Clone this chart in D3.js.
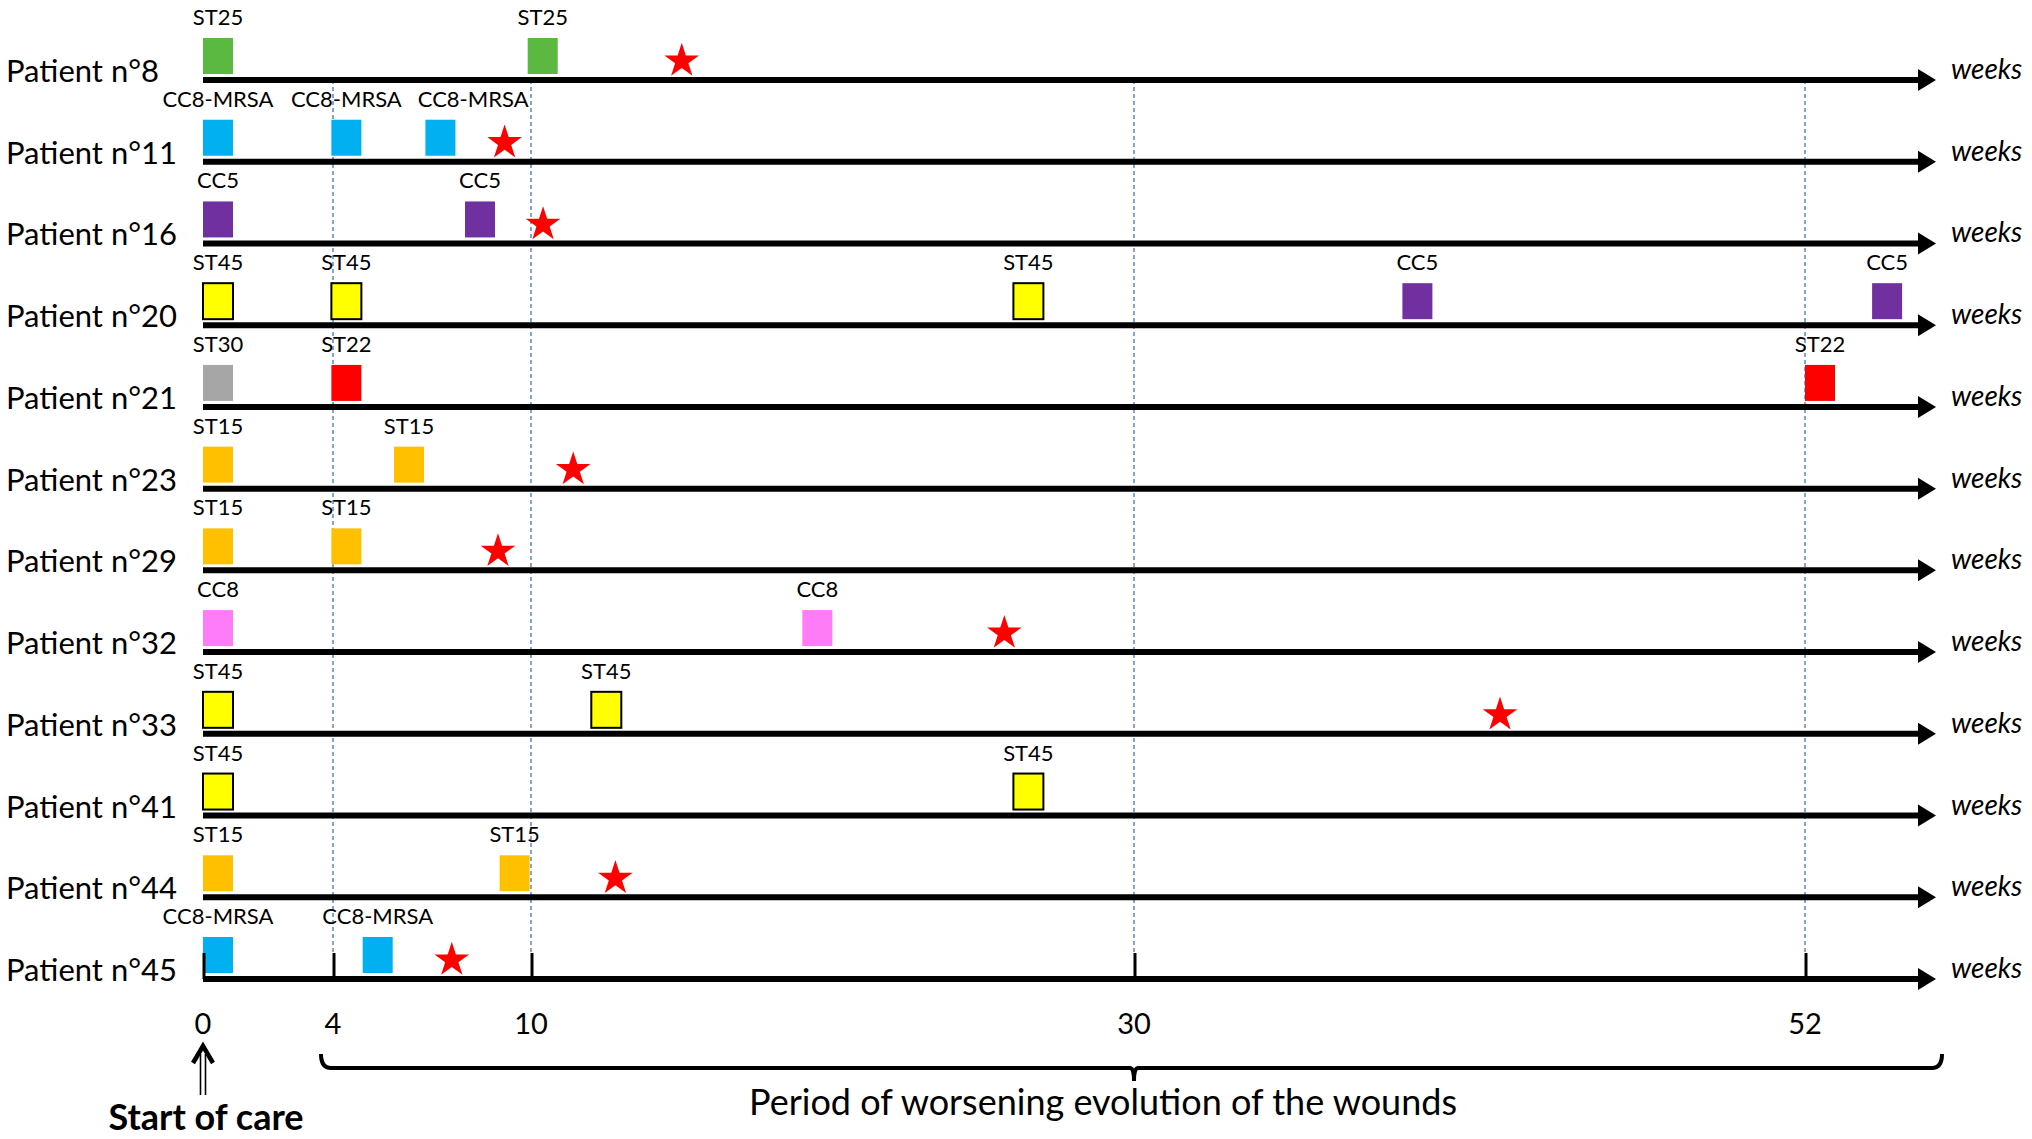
<!DOCTYPE html>
<html>
<head>
<meta charset="utf-8">
<script src="https://cdn.jsdelivr.net/npm/d3@7"></script>
<style>
  html, body { margin: 0; padding: 0; background: #fff; }
  svg { display: block; font-family: Lato, "Open Sans", sans-serif; }
</style>
</head>
<body>
<script>
// patients, one timeline each
var patients = ["Patient n°8", "Patient n°11", "Patient n°16", "Patient n°20", "Patient n°21", "Patient n°23",
                "Patient n°29", "Patient n°32", "Patient n°33", "Patient n°41", "Patient n°44", "Patient n°45"];

// week of each isolate, per patient
var isolateWeeks = [
  [0, 9.9],
  [0, 3.95, 6.8],
  [0, 8],
  [0, 3.95, 26, 38.8, 54.2],
  [0, 3.95, 52],
  [0, 5.85],
  [0, 3.95],
  [0, 19],
  [0, 12],
  [0, 26],
  [0, 9.05],
  [0, 4.9]
];

// lineage of each isolate, per patient
var isolateTypes = [
  ["ST25", "ST25"],
  ["CC8-MRSA", "CC8-MRSA", "CC8-MRSA"],
  ["CC5", "CC5"],
  ["ST45", "ST45", "ST45", "CC5", "CC5"],
  ["ST30", "ST22", "ST22"],
  ["ST15", "ST15"],
  ["ST15", "ST15"],
  ["CC8", "CC8"],
  ["ST45", "ST45"],
  ["ST45", "ST45"],
  ["ST15", "ST15"],
  ["CC8-MRSA", "CC8-MRSA"]
];

// week of the red star, null when none
var starWeeks = [15, 9.2, 10.4, null, null, 11.4, 9.0, 25.7, 42, null, 12.8, 7.6];

var tickWeeks = [0, 4, 10, 30, 52];
var guideWeeks = [4, 10, 30, 52];

var lineages = ["ST25", "CC8-MRSA", "CC5", "ST45", "ST30", "ST22", "ST15", "CC8"];

var W = 2032, H = 1139;

var svg = d3.select("body").append("svg")
  .attr("width", W)
  .attr("height", H);

// the drawing is not to scale, so the axis is piecewise between the ticks
var x = d3.scaleLinear()
  .domain(tickWeeks)
  .range([203, 333, 531, 1134, 1805]);

var y = d3.scalePoint()
  .domain(patients)
  .range([80, 979]);

var color = d3.scaleOrdinal()
  .domain(lineages)
  .range(["#5bb840", "#00b0f0", "#7030a0", "#ffff00", "#a6a6a6", "#ff0000", "#ffc000", "#ff7cf8"]);

var axisEnd = 1936,
    rectW = 30,
    rectH = 36,
    lastRow = patients[patients.length - 1];

// dashed guides
svg.append("g").selectAll("line")
  .data(guideWeeks)
  .enter().append("line")
    .attr("x1", function(d) { return x(d); })
    .attr("x2", function(d) { return x(d); })
    .attr("y1", y(patients[0]))
    .attr("y2", y(lastRow) - 24)
    .attr("stroke", "#4472c4")
    .attr("stroke-width", 1.3)
    .attr("stroke-dasharray", "4,3");

var rows = svg.append("g").selectAll(".row")
  .data(patients)
  .enter().append("g")
    .attr("class", "row")
    .attr("transform", function(d) { return "translate(0," + y(d) + ")"; });

rows.append("text")
  .attr("x", 6)
  .attr("y", 2)
  .attr("font-size", 31)
  .text(function(d) { return d; });

rows.append("line")
  .attr("x1", x(0))
  .attr("x2", axisEnd - 16)
  .attr("stroke", "#000")
  .attr("stroke-width", 6);

rows.append("path")
  .attr("d", "M" + (axisEnd - 18) + ",-11L" + axisEnd + ",0L" + (axisEnd - 18) + ",11Z")
  .attr("fill", "#000");

rows.append("text")
  .attr("x", 1951)
  .attr("y", -1)
  .attr("font-size", 28)
  .attr("font-style", "italic")
  .text("weeks");

// isolates
var iso = rows.selectAll(".iso")
  .data(function(d, i) {
    return isolateWeeks[i].map(function(w, j) { return {week: w, type: isolateTypes[i][j]}; });
  })
  .enter().append("g")
    .attr("class", "iso");

iso.append("rect")
  .attr("x", function(d) { return x(d.week); })
  .attr("y", -6 - rectH)
  .attr("width", rectW)
  .attr("height", rectH)
  .attr("fill", function(d) { return color(d.type); })
  .attr("stroke", function(d) { return d.type == "ST45" ? "#000" : "none"; })
  .attr("stroke-width", 2);

iso.append("text")
  .attr("class", "lab")
  .attr("x", function(d) { return x(d.week) + rectW / 2; })
  .attr("y", -55)
  .attr("text-anchor", "middle")
  .attr("font-size", 22)
  .text(function(d) { return d.type; });

// push a label right when it runs into the previous one
rows.each(function() {
  var prevRight = -Infinity;
  d3.select(this).selectAll(".lab").each(function() {
    var t = d3.select(this),
        w = this.getComputedTextLength(),
        cx = +t.attr("x");
    if (cx - w / 2 < prevRight + 16) {
      cx = prevRight + 16 + w / 2;
      t.attr("x", cx);
    }
    prevRight = cx + w / 2;
  });
});

// red stars
rows.filter(function(d, i) { return starWeeks[i] != null; })
  .append("path")
    .attr("transform", function(d) { return "translate(" + x(starWeeks[patients.indexOf(d)]) + ",-19)"; })
    .attr("d", d3.symbol().type(d3.symbolStar).size(372))
    .attr("fill", "#ff0000");

// ticks on the last timeline
svg.append("g").selectAll("line")
  .data(tickWeeks)
  .enter().append("line")
    .attr("x1", function(d) { return x(d) + 1; })
    .attr("x2", function(d) { return x(d) + 1; })
    .attr("y1", y(lastRow) - 26)
    .attr("y2", y(lastRow))
    .attr("stroke", "#000")
    .attr("stroke-width", 3);

svg.append("g").selectAll("text")
  .data(tickWeeks)
  .enter().append("text")
    .attr("x", function(d) { return x(d); })
    .attr("y", 1034)
    .attr("text-anchor", "middle")
    .attr("font-size", 29)
    .text(function(d) { return d; });

// brace under the worsening period
var bl = x(4) - 12, br = 1942, bm = x(30), by = 1068;
svg.append("path")
  .attr("d", "M" + bl + "," + (by - 14) + "Q" + bl + "," + by + " " + (bl + 10) + "," + by +
             "L" + (bm - 4) + "," + by + "Q" + bm + "," + by + " " + bm + "," + (by + 13) +
             "Q" + bm + "," + by + " " + (bm + 4) + "," + by +
             "L" + (br - 10) + "," + by + "Q" + br + "," + by + " " + br + "," + (by - 14))
  .attr("fill", "none")
  .attr("stroke", "#000")
  .attr("stroke-width", 4);

svg.append("text")
  .attr("x", 1103)
  .attr("y", 1115)
  .attr("text-anchor", "middle")
  .attr("font-size", 36)
  .text("Period of worsening evolution of the wounds");

// start of care arrow
var ax = x(0);
svg.append("path")
  .attr("d", "M" + (ax - 2.5) + ",1054V1095M" + (ax + 2.5) + ",1054V1095")
  .attr("stroke", "#000")
  .attr("stroke-width", 1.6);
svg.append("path")
  .attr("d", "M" + (ax - 10) + ",1063L" + ax + ",1046L" + (ax + 10) + ",1063")
  .attr("fill", "none")
  .attr("stroke", "#000")
  .attr("stroke-width", 4.5);

svg.append("text")
  .attr("x", 206)
  .attr("y", 1130)
  .attr("text-anchor", "middle")
  .attr("font-size", 36)
  .attr("font-weight", "bold")
  .text("Start of care");
</script>
</body>
</html>
